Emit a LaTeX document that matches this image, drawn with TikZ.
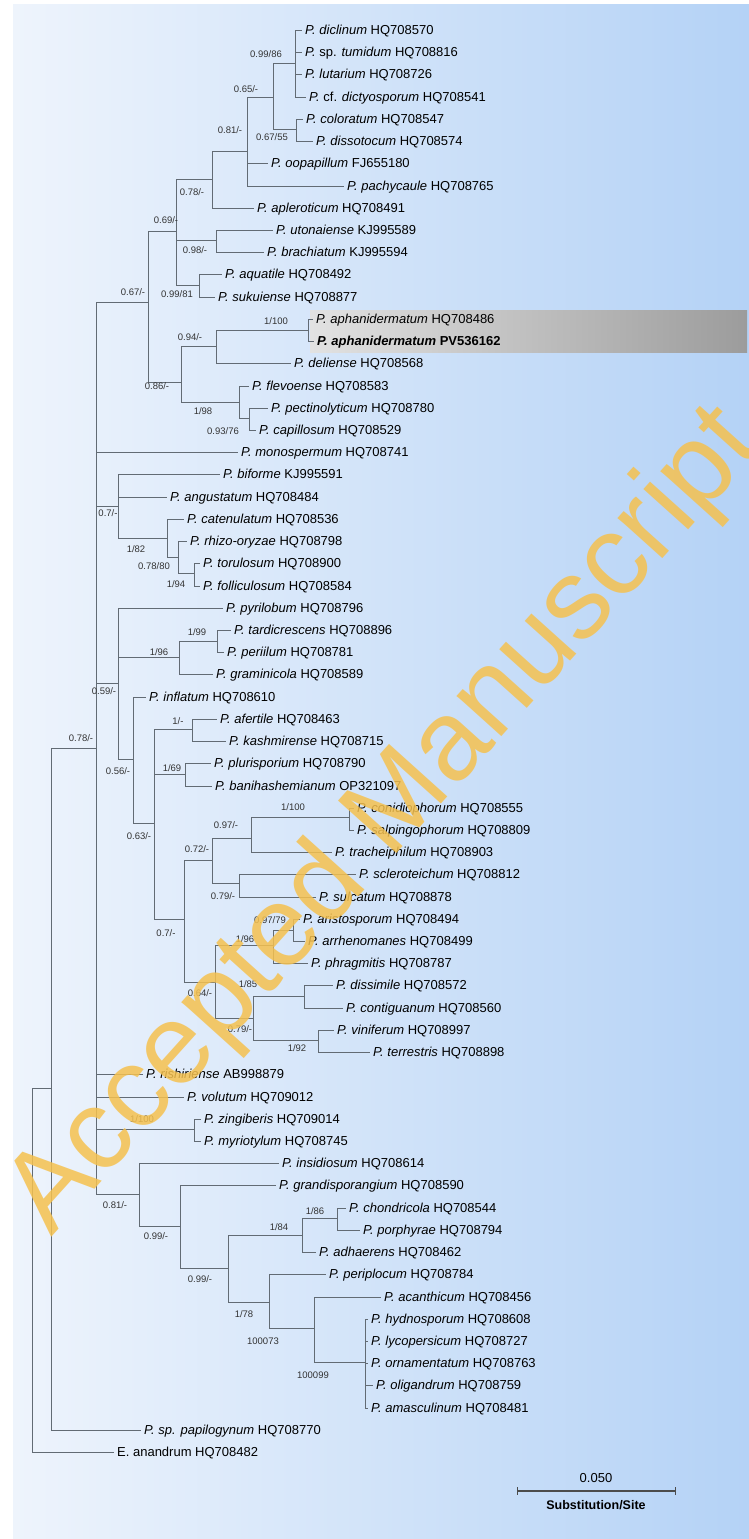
\documentclass[tikz,border=0pt]{standalone}
\usepackage{fontspec}
\setmainfont{Liberation Sans}

\definecolor{bgleft}{HTML}{EEF4FC}
\definecolor{bgright}{HTML}{B4D2F6}
\definecolor{branchgray}{HTML}{626B74}
\definecolor{hlleft}{HTML}{E2E2E2}
\definecolor{hlright}{HTML}{9C9C9C}
\definecolor{stamp}{HTML}{F5C14F}

\begin{document}
\begin{tikzpicture}[x=1pt,y=-1pt]
  \tikzset{leaf/.style={anchor=west, inner xsep=4pt, inner ysep=0pt, text height=10pt, text depth=1pt, font=\fontsize{13}{15}\selectfont},
           support/.style={inner sep=0pt, text=black!80, font=\fontsize{9.5}{11}\selectfont},
           branch/.style={draw=branchgray, line width=1pt, line cap=rect}}
  \useasboundingbox (0,0) rectangle (749,1539);
  \fill[white] (0,0) rectangle (749,1539);
  \shade[left color=bgleft, right color=bgright] (13,4) rectangle (749,1539);
  \shade[left color=hlleft, right color=hlright] (310,310) rectangle (747,352);

  % inner nodes of the tree
  \coordinate (root) at (32,1270);
  \coordinate (n078r) at (51,1088);
  \coordinate (n078) at (96,748);
  \coordinate (n067) at (148,302);
  \coordinate (n069) at (176,231);
  \coordinate (n078b) at (212,179);
  \coordinate (n081a) at (247,151);
  \coordinate (n065) at (273,97);
  \coordinate (n0986) at (295,63);
  \coordinate (n06755) at (296,129);
  \coordinate (n098) at (216,240);
  \coordinate (n09981) at (199,285);
  \coordinate (n086) at (181,382);
  \coordinate (n094) at (216,346);
  \coordinate (n1100a) at (308,330);
  \coordinate (n198) at (239,402);
  \coordinate (n09376) at (249,418);
  \coordinate (n07a) at (118,506);
  \coordinate (n182) at (167,538);
  \coordinate (n07880) at (178,557);
  \coordinate (n194) at (194,573);
  \coordinate (n059) at (118,683);
  \coordinate (n196a) at (179,657);
  \coordinate (n199) at (217,641);
  \coordinate (n056) at (133,759);
  \coordinate (n063) at (154,823);
  \coordinate (n1a) at (192,729);
  \coordinate (n169) at (185,774);
  \coordinate (n07b) at (184,919);
  \coordinate (n072) at (212,860);
  \coordinate (n097) at (251,838);
  \coordinate (n1100b) at (349,817);
  \coordinate (n079a) at (239,883);
  \coordinate (n064) at (215,982);
  \coordinate (n196b) at (273,945);
  \coordinate (n09779) at (293,930);
  \coordinate (n079b) at (253,1018);
  \coordinate (n185) at (304,996);
  \coordinate (n192) at (318,1040);
  \coordinate (n1100c) at (194,1129);
  \coordinate (n081c) at (139,1194);
  \coordinate (n099a) at (180,1226);
  \coordinate (n099b) at (228,1268);
  \coordinate (n184) at (302,1235);
  \coordinate (n186) at (337,1218);
  \coordinate (n178) at (269,1302);
  \coordinate (n100073) at (314,1328);
  \coordinate (n100099) at (365,1362);

  % taxa
  \node[leaf] (diclinum) at (301,30) {\textit{P. diclinum} HQ708570};
  \node[leaf] (tumidum) at (301,52) {\textit{P.} sp. \textit{tumidum} HQ708816};
  \node[leaf] (lutarium) at (301,74) {\textit{P. lutarium} HQ708726};
  \node[leaf] (dictyosporum) at (305,97) {\textit{P.} cf. \textit{dictyosporum} HQ708541};
  \node[leaf] (coloratum) at (302,119) {\textit{P. coloratum} HQ708547};
  \node[leaf] (dissotocum) at (312,141) {\textit{P. dissotocum} HQ708574};
  \node[leaf] (oopapillum) at (267,163) {\textit{P. oopapillum} FJ655180};
  \node[leaf] (pachycaule) at (343,186) {\textit{P. pachycaule} HQ708765};
  \node[leaf] (apleroticum) at (253,208) {\textit{P. apleroticum} HQ708491};
  \node[leaf] (utonaiense) at (272,230) {\textit{P. utonaiense} KJ995589};
  \node[leaf] (brachiatum) at (263,252) {\textit{P. brachiatum} KJ995594};
  \node[leaf] (aquatile) at (221,274) {\textit{P. aquatile} HQ708492};
  \node[leaf] (sukuiense) at (214,297) {\textit{P. sukuiense} HQ708877};
  \node[leaf] (aphanidermatum) at (312,319) {\textit{P. aphanidermatum} HQ708486};
  \node[leaf] (aphanidermatumPV) at (313,341) {\textbf{\textit{P. aphanidermatum} PV536162}};
  \node[leaf] (deliense) at (290,363) {\textit{P. deliense} HQ708568};
  \node[leaf] (flevoense) at (248,386) {\textit{P. flevoense} HQ708583};
  \node[leaf] (pectinolyticum) at (267,408) {\textit{P. pectinolyticum} HQ708780};
  \node[leaf] (capillosum) at (255,430) {\textit{P. capillosum} HQ708529};
  \node[leaf] (monospermum) at (237,452) {\textit{P. monospermum} HQ708741};
  \node[leaf] (biforme) at (219,474) {\textit{P. biforme} KJ995591};
  \node[leaf] (angustatum) at (166,497) {\textit{P. angustatum} HQ708484};
  \node[leaf] (catenulatum) at (183,519) {\textit{P. catenulatum} HQ708536};
  \node[leaf] (rhizooryzae) at (186,541) {\textit{P. rhizo-oryzae} HQ708798};
  \node[leaf] (torulosum) at (199,563) {\textit{P. torulosum} HQ708900};
  \node[leaf] (folliculosum) at (199,586) {\textit{P. folliculosum} HQ708584};
  \node[leaf] (pyrilobum) at (222,608) {\textit{P. pyrilobum} HQ708796};
  \node[leaf] (tardicrescens) at (230,630) {\textit{P. tardicrescens} HQ708896};
  \node[leaf] (periilum) at (223,652) {\textit{P. periilum} HQ708781};
  \node[leaf] (graminicola) at (212,674) {\textit{P. graminicola} HQ708589};
  \node[leaf] (inflatum) at (145,697) {\textit{P. inflatum} HQ708610};
  \node[leaf] (afertile) at (216,719) {\textit{P. afertile} HQ708463};
  \node[leaf] (kashmirense) at (225,741) {\textit{P. kashmirense} HQ708715};
  \node[leaf] (plurisporium) at (210,763) {\textit{P. plurisporium} HQ708790};
  \node[leaf] (banihashemianum) at (211,786) {\textit{P. banihashemianum} OP321097};
  \node[leaf] (conidiophorum) at (353,808) {\textit{P. conidiophorum} HQ708555};
  \node[leaf] (salpingophorum) at (353,830) {\textit{P. salpingophorum} HQ708809};
  \node[leaf] (tracheiphilum) at (331,852) {\textit{P. tracheiphilum} HQ708903};
  \node[leaf] (scleroteichum) at (355,874) {\textit{P. scleroteichum} HQ708812};
  \node[leaf] (sulcatum) at (315,897) {\textit{P. sulcatum} HQ708878};
  \node[leaf] (aristosporum) at (299,919) {\textit{P. aristosporum} HQ708494};
  \node[leaf] (arrhenomanes) at (304,941) {\textit{P. arrhenomanes} HQ708499};
  \node[leaf] (phragmitis) at (307,963) {\textit{P. phragmitis} HQ708787};
  \node[leaf] (dissimile) at (332,985) {\textit{P. dissimile} HQ708572};
  \node[leaf] (contiguanum) at (342,1008) {\textit{P. contiguanum} HQ708560};
  \node[leaf] (viniferum) at (333,1030) {\textit{P. viniferum} HQ708997};
  \node[leaf] (terrestris) at (369,1052) {\textit{P. terrestris} HQ708898};
  \node[leaf] (rishiriense) at (142,1074) {\textit{P. rishiriense} AB998879};
  \node[leaf] (volutum) at (183,1097) {\textit{P. volutum} HQ709012};
  \node[leaf] (zingiberis) at (200,1119) {\textit{P. zingiberis} HQ709014};
  \node[leaf] (myriotylum) at (200,1141) {\textit{P. myriotylum} HQ708745};
  \node[leaf] (insidiosum) at (278,1163) {\textit{P. insidiosum} HQ708614};
  \node[leaf] (grandisporangium) at (275,1185) {\textit{P. grandisporangium} HQ708590};
  \node[leaf] (chondricola) at (345,1208) {\textit{P. chondricola} HQ708544};
  \node[leaf] (porphyrae) at (359,1230) {\textit{P. porphyrae} HQ708794};
  \node[leaf] (adhaerens) at (315,1252) {\textit{P. adhaerens} HQ708462};
  \node[leaf] (periplocum) at (325,1274) {\textit{P. periplocum} HQ708784};
  \node[leaf] (acanthicum) at (380,1297) {\textit{P. acanthicum} HQ708456};
  \node[leaf] (hydnosporum) at (367,1319) {\textit{P. hydnosporum} HQ708608};
  \node[leaf] (lycopersicum) at (367,1341) {\textit{P. lycopersicum} HQ708727};
  \node[leaf] (ornamentatum) at (367,1363) {\textit{P. ornamentatum} HQ708763};
  \node[leaf] (oligandrum) at (372,1385) {\textit{P. oligandrum} HQ708759};
  \node[leaf] (amasculinum) at (367,1408) {\textit{P. amasculinum} HQ708481};
  \node[leaf] (papilogynum) at (140,1430) {\textit{P. sp. papilogynum} HQ708770};
  \node[leaf] (anandrum) at (113,1452) {E. anandrum HQ708482};

  % branches
  \draw[branch] (root) |- (n078r) (root) |- (anandrum.west);
  \draw[branch] (n078r) |- (n078) (n078r) |- (papilogynum.west);
  \draw[branch] (n078) |- (n067) (n078) |- (monospermum.west) (n078) |- (n07a) (n078) |- (n059)
                (n078) |- (rishiriense.west) (n078) |- (volutum.west) (n078) |- (n1100c) (n078) |- (n081c);
  \draw[branch] (n067) |- (n069) (n067) |- (n086);
  \draw[branch] (n069) |- (n078b) (n069) |- (n098) (n069) |- (n09981);
  \draw[branch] (n078b) |- (n081a) (n078b) |- (apleroticum.west);
  \draw[branch] (n081a) |- (n065) (n081a) |- (oopapillum.west) (n081a) |- (pachycaule.west);
  \draw[branch] (n065) |- (n0986) (n065) |- (n06755);
  \draw[branch] (n0986) |- (diclinum.west) (n0986) |- (tumidum.west) (n0986) |- (lutarium.west) (n0986) |- (dictyosporum.west);
  \draw[branch] (n06755) |- (coloratum.west) (n06755) |- (dissotocum.west);
  \draw[branch] (n098) |- (utonaiense.west) (n098) |- (brachiatum.west);
  \draw[branch] (n09981) |- (aquatile.west) (n09981) |- (sukuiense.west);
  \draw[branch] (n086) |- (n094) (n086) |- (n198);
  \draw[branch] (n094) |- (n1100a) (n094) |- (deliense.west);
  \draw[branch] (n1100a) |- (aphanidermatum.west) (n1100a) |- (aphanidermatumPV.west);
  \draw[branch] (n198) |- (flevoense.west) (n198) |- (n09376);
  \draw[branch] (n09376) |- (pectinolyticum.west) (n09376) |- (capillosum.west);
  \draw[branch] (n07a) |- (biforme.west) (n07a) |- (angustatum.west) (n07a) |- (n182);
  \draw[branch] (n182) |- (catenulatum.west) (n182) |- (n07880);
  \draw[branch] (n07880) |- (rhizooryzae.west) (n07880) |- (n194);
  \draw[branch] (n194) |- (torulosum.west) (n194) |- (folliculosum.west);
  \draw[branch] (n059) |- (pyrilobum.west) (n059) |- (n196a) (n059) |- (n056);
  \draw[branch] (n196a) |- (n199) (n196a) |- (graminicola.west);
  \draw[branch] (n199) |- (tardicrescens.west) (n199) |- (periilum.west);
  \draw[branch] (n056) |- (inflatum.west) (n056) |- (n063);
  \draw[branch] (n063) |- (n1a) (n063) |- (n169) (n063) |- (n07b);
  \draw[branch] (n1a) |- (afertile.west) (n1a) |- (kashmirense.west);
  \draw[branch] (n169) |- (plurisporium.west) (n169) |- (banihashemianum.west);
  \draw[branch] (n07b) |- (n072) (n07b) |- (n064);
  \draw[branch] (n072) |- (n097) (n072) |- (n079a);
  \draw[branch] (n097) |- (n1100b) (n097) |- (tracheiphilum.west);
  \draw[branch] (n1100b) |- (conidiophorum.west) (n1100b) |- (salpingophorum.west);
  \draw[branch] (n079a) |- (scleroteichum.west) (n079a) |- (sulcatum.west);
  \draw[branch] (n064) |- (n196b) (n064) |- (n079b);
  \draw[branch] (n196b) |- (n09779) (n196b) |- (phragmitis.west);
  \draw[branch] (n09779) |- (aristosporum.west) (n09779) |- (arrhenomanes.west);
  \draw[branch] (n079b) |- (n185) (n079b) |- (n192);
  \draw[branch] (n185) |- (dissimile.west) (n185) |- (contiguanum.west);
  \draw[branch] (n192) |- (viniferum.west) (n192) |- (terrestris.west);
  \draw[branch] (n1100c) |- (zingiberis.west) (n1100c) |- (myriotylum.west);
  \draw[branch] (n081c) |- (insidiosum.west) (n081c) |- (n099a);
  \draw[branch] (n099a) |- (grandisporangium.west) (n099a) |- (n099b);
  \draw[branch] (n099b) |- (n184) (n099b) |- (n178);
  \draw[branch] (n184) |- (n186) (n184) |- (adhaerens.west);
  \draw[branch] (n186) |- (chondricola.west) (n186) |- (porphyrae.west);
  \draw[branch] (n178) |- (periplocum.west) (n178) |- (n100073);
  \draw[branch] (n100073) |- (acanthicum.west) (n100073) |- (n100099);
  \draw[branch] (n100099) |- (hydnosporum.west) (n100099) |- (lycopersicum.west) (n100099) |- (ornamentatum.west)
                (n100099) |- (oligandrum.west) (n100099) |- (amasculinum.west);

  % support values
  \node[support] (s0986) at (266,54) {0.99/86};
  \node[support] (s065) at (246,89) {0.65/-};
  \node[support] (s081a) at (230,130) {0.81/-};
  \node[support] (s06755) at (272,137) {0.67/55};
  \node[support] (s078b) at (192,192) {0.78/-};
  \node[support] (s069) at (166,220) {0.69/-};
  \node[support] (s098) at (195,250) {0.98/-};
  \node[support] (s09981) at (177,294) {0.99/81};
  \node[support] (s067) at (133,292) {0.67/-};
  \node[support] (s1100a) at (276,321) {1/100};
  \node[support] (s094) at (190,337) {0.94/-};
  \node[support] (s086) at (157,386) {0.86/-};
  \node[support] (s198) at (203,411) {1/98};
  \node[support] (s09376) at (223,431) {0.93/76};
  \node[support] (s07a) at (108,513) {0.7/-};
  \node[support] (s182) at (136,549) {1/82};
  \node[support] (s07880) at (154,566) {0.78/80};
  \node[support] (s194) at (176,584) {1/94};
  \node[support] (s199) at (197,632) {1/99};
  \node[support] (s196a) at (159,652) {1/96};
  \node[support] (s059) at (104,691) {0.59/-};
  \node[support] (s1a) at (178,721) {1/-};
  \node[support] (s078) at (81,738) {0.78/-};
  \node[support] (s169) at (172,768) {1/69};
  \node[support] (s056) at (118,771) {0.56/-};
  \node[support] (s1100b) at (293,807) {1/100};
  \node[support] (s097) at (226,825) {0.97/-};
  \node[support] (s063) at (139,836) {0.63/-};
  \node[support] (s072) at (197,849) {0.72/-};
  \node[support] (s079a) at (223,896) {0.79/-};
  \node[support] (s09779) at (270,920) {0.97/79};
  \node[support] (s07b) at (166,933) {0.7/-};
  \node[support] (s196b) at (245,939) {1/96};
  \node[support] (s185) at (248,984) {1/85};
  \node[support] (s064) at (200,993) {0.64/-};
  \node[support] (s079b) at (240,1029) {0.79/-};
  \node[support] (s192) at (297,1048) {1/92};
  \node[support] (s1100c) at (142,1119) {1/100};
  \node[support] (s081c) at (115,1205) {0.81/-};
  \node[support] (s186) at (315,1211) {1/86};
  \node[support] (s184) at (279,1227) {1/84};
  \node[support] (s099a) at (156,1236) {0.99/-};
  \node[support] (s099b) at (200,1279) {0.99/-};
  \node[support] (s178) at (244,1314) {1/78};
  \node[support] (s100073) at (263,1341) {100073};
  \node[support] (s100099) at (313,1375) {100099};

  % scale bar
  \coordinate (sbleft) at (517,1491);
  \coordinate (sbright) at (676,1491);
  \draw[black!70, line width=1.2pt, |-|] (sbleft) -- (sbright);
  \node[font=\fontsize{13}{15}\selectfont, inner sep=0pt] (sbvalue) at (596,1478) {0.050};
  \node[font=\fontsize{12.5}{15}\selectfont\bfseries, inner sep=0pt] (sbunit) at (596,1505) {Substitution/Site};

  % stamp
  \node[rotate=48, text=stamp, text opacity=0.85, font=\fontsize{114}{126}\selectfont] (stamp) at (386,822) {Accepted Manuscript};
\end{tikzpicture}
\end{document}
